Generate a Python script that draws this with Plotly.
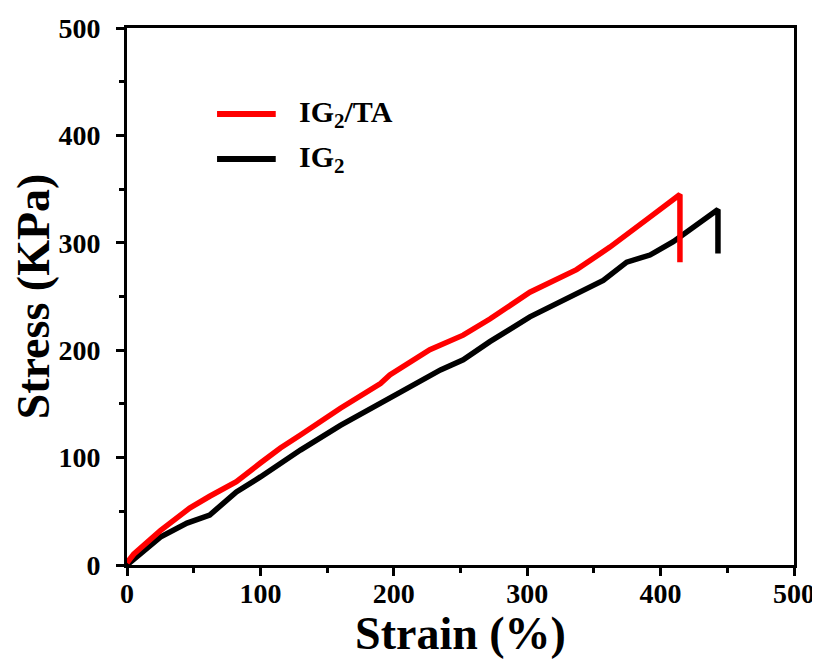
import plotly.graph_objects as go

strain_ig2ta = [0, 5, 25, 47, 62, 82, 100, 115, 130, 160, 190, 197, 227, 252, 272, 302, 337, 362, 390, 414.5, 414.5]
stress_ig2ta = [2, 10, 32, 53, 64, 77.6, 95, 109, 121, 146, 169, 177, 200.5, 214, 229, 254, 275, 296, 322, 345, 282]

strain_ig2 = [0, 25, 45, 62, 82, 100, 130, 160, 205, 235, 252, 272, 302, 337, 357, 374.6, 392, 409.5, 424.5, 443, 443]
stress_ig2 = [0, 26, 39, 46.5, 68, 82, 107, 130, 161, 181.6, 191, 208, 231, 253, 265, 282, 288.6, 301, 315, 331, 290]

legend_names = ["IG<sub>2</sub>/TA", "IG<sub>2</sub>"]
legend_colors = ["#ff0000", "#000000"]

x_ticks = [0, 100, 200, 300, 400, 500]
y_ticks = [0, 100, 200, 300, 400, 500]

FONT = "Liberation Serif"

fig = go.Figure()
fig.add_trace(go.Scatter(x=strain_ig2, y=stress_ig2, mode="lines",
                         line=dict(color=legend_colors[1], width=5.5), showlegend=False))
fig.add_trace(go.Scatter(x=strain_ig2ta, y=stress_ig2ta, mode="lines",
                         line=dict(color=legend_colors[0], width=5.5), showlegend=False))

axis_common = dict(
    showgrid=False, zeroline=False, showline=True, linecolor="black", linewidth=3,
    mirror=True, ticks="outside", ticklen=8, tickwidth=3, tickcolor="black",
    minor=dict(ticks="outside", ticklen=5, tickwidth=3, tickcolor="black", dtick=50),
    tickfont=dict(family=FONT, size=28, color="black", weight="bold"),
    automargin=False,
)

fig.update_xaxes(range=[0, 500], tickvals=x_ticks, ticklabelstandoff=-7, **axis_common,
                 title=dict(text="<b>Strain (%)</b>", font=dict(family=FONT, size=46, color="black"), standoff=6))
fig.update_yaxes(range=[0, 500], tickvals=y_ticks, ticklabelstandoff=10, **axis_common,
                 title=dict(text="<b>Stress (KPa)</b>", font=dict(family=FONT, size=46, color="black"), standoff=6))

leg_y = [0.840, 0.756]
for name, color, yy in zip(legend_names, legend_colors, leg_y):
    fig.add_shape(type="line", xref="paper", yref="paper", x0=0.135, x1=0.223, y0=yy, y1=yy,
                  line=dict(color=color, width=6))
    fig.add_annotation(xref="paper", yref="paper", x=0.255, y=yy, xanchor="left", yanchor="middle",
                       text="<b>" + name + "</b>", showarrow=False,
                       font=dict(family=FONT, size=30, color="black"))

fig.update_layout(
    width=812, height=651,
    margin=dict(l=119, r=26, t=20, b=94),
    paper_bgcolor="white", plot_bgcolor="white",
)

fig.write_html("out.html")
